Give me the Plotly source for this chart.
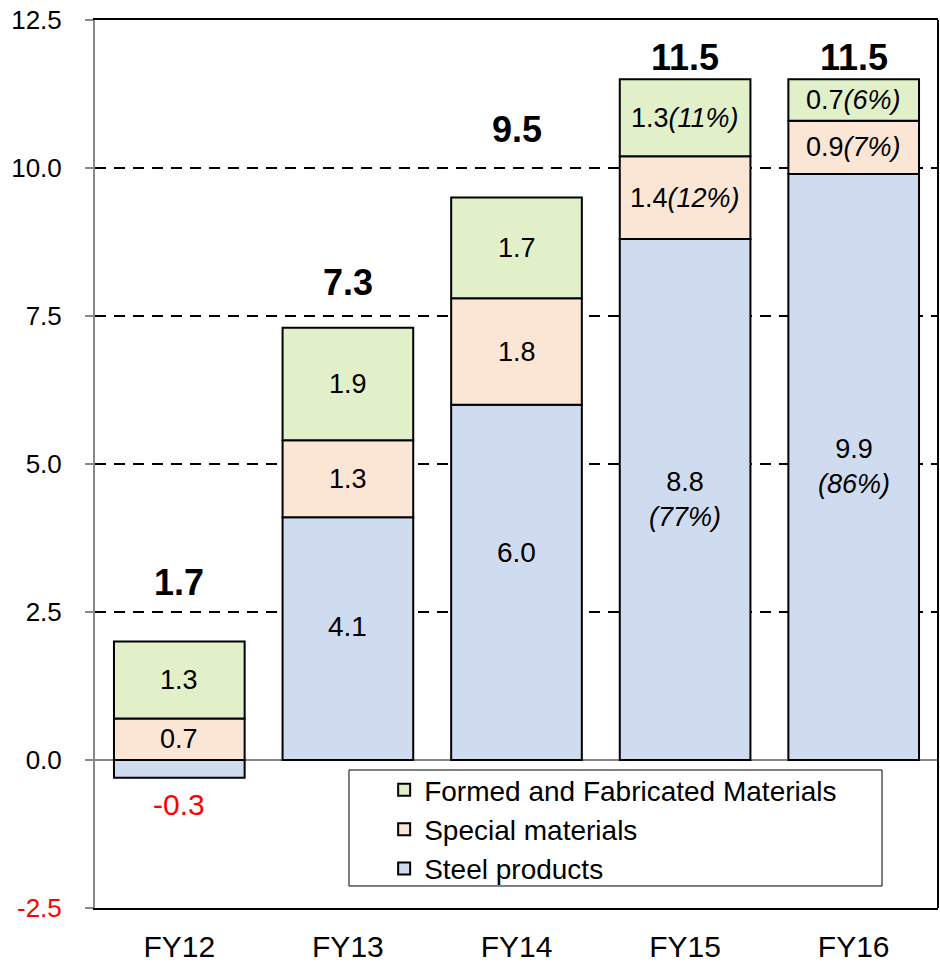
import plotly.graph_objects as go

years = ["FY12", "FY13", "FY14", "FY15", "FY16"]
steel = [-0.3, 4.1, 6.0, 8.8, 9.9]
special = [0.7, 1.3, 1.8, 1.4, 0.9]
formed = [1.3, 1.9, 1.7, 1.3, 0.7]
totals = [1.7, 7.3, 9.5, 11.5, 11.5]
steel_pct = [None, None, None, 77, 86]
special_pct = [None, None, None, 12, 7]
formed_pct = [None, None, None, 11, 6]

y_ticks = [-2.5, 0.0, 2.5, 5.0, 7.5, 10.0, 12.5]

FONT = "Liberation Sans, Arial, sans-serif"
C_STEEL = "#CFDBEE"
C_SPECIAL = "#FBE5D5"
C_FORMED = "#E2F0CA"

# label offsets (px) to mimic original placement
steel_shift = [0, 12, 30, 0, 0]
total_shift = [59, 45, 68, 22, 22]

fig = go.Figure()
for name, vals, col, rank in [
    ("Steel products", steel, C_STEEL, 3),
    ("Special materials", special, C_SPECIAL, 2),
    ("Formed and Fabricated Materials", formed, C_FORMED, 1),
]:
    fig.add_trace(go.Bar(
        x=years, y=vals, name=name, legendgroup=name, legendrank=rank,
        marker=dict(color=col, line=dict(color="black", width=2)),
        width=0.775, hoverinfo="skip",
    ))


def lbl(v, pct):
    s = f"{v:.1f}"
    if pct is not None:
        s += f"<i>({pct}%)</i>"
    return s


ann = []
for i, yr in enumerate(years):
    base = max(steel[i], 0)
    # steel
    if steel[i] < 0:
        ann.append(dict(x=yr, y=steel[i], text=f"{steel[i]:.1f}", yshift=-27,
                        font=dict(size=30, color="red")))
    else:
        t = f"{steel[i]:.1f}"
        if steel_pct[i] is not None:
            t += f"<br><i>({steel_pct[i]}%)</i>"
        ann.append(dict(x=yr, y=steel[i] / 2, text=t, yshift=steel_shift[i],
                        font=dict(size=28 if steel_pct[i] is None else 27)))
    # special
    ann.append(dict(x=yr, y=base + special[i] / 2, text=lbl(special[i], special_pct[i]),
                    font=dict(size=27)))
    # formed
    ann.append(dict(x=yr, y=base + special[i] + formed[i] / 2,
                    text=lbl(formed[i], formed_pct[i]), font=dict(size=27)))
    # total
    top = base + special[i] + formed[i]
    ann.append(dict(x=yr, y=top, text=f"<b>{totals[i]:.1f}</b>", yshift=total_shift[i],
                    font=dict(size=36)))
for a in ann:
    a.update(showarrow=False, xref="x", yref="y", yanchor="middle")
    a["font"].setdefault("color", "black")
    a["font"]["family"] = FONT

tick_text = [f"<span style='color:red'>{v:.1f}</span>" if v < 0 else f"{v:.1f}" for v in y_ticks]

fig.update_layout(
    barmode="relative",
    width=940, height=968,
    margin=dict(l=95, r=2, t=20, b=60, autoexpand=False),
    paper_bgcolor="white", plot_bgcolor="white",
    font=dict(family=FONT, color="black"),
    annotations=ann,
    showlegend=True,
    legend=dict(
        x=0.343, y=0.161, xanchor="left", yanchor="top",
        traceorder="normal", tracegroupgap=2,
        font=dict(size=28, family=FONT), bgcolor="rgba(0,0,0,0)",
    ),
    xaxis=dict(
        showline=True, linecolor="black", linewidth=2, mirror=True,
        showgrid=False, ticks="", tickfont=dict(size=30),
        ticklabelstandoff=11, automargin=False,
    ),
    yaxis=dict(
        range=[-2.5, 12.5], tickvals=y_ticks, ticktext=tick_text,
        tickfont=dict(size=26), ticks="outside", ticklen=8, tickcolor="#888888",
        tickwidth=2, ticklabelstandoff=18, automargin=False,
        showline=True, linecolor="#888888", linewidth=2,
        showgrid=True, gridcolor="black", gridwidth=2, griddash="11px,8px",
        zeroline=True, zerolinecolor="#888888", zerolinewidth=2,
    ),
    shapes=[
        dict(type="line", xref="paper", yref="paper", x0=1, x1=1, y0=0, y1=1,
             line=dict(color="black", width=2)),
        dict(type="rect", xref="paper", yref="paper", x0=0.3013, x1=0.9336,
             y0=0.0248, y1=0.1554, line=dict(color="black", width=1),
             fillcolor="white", layer="above"),
    ],
)

fig.write_html("out.html", config={"displayModeBar": False},
               post_script="document.body.style.margin='0';")
